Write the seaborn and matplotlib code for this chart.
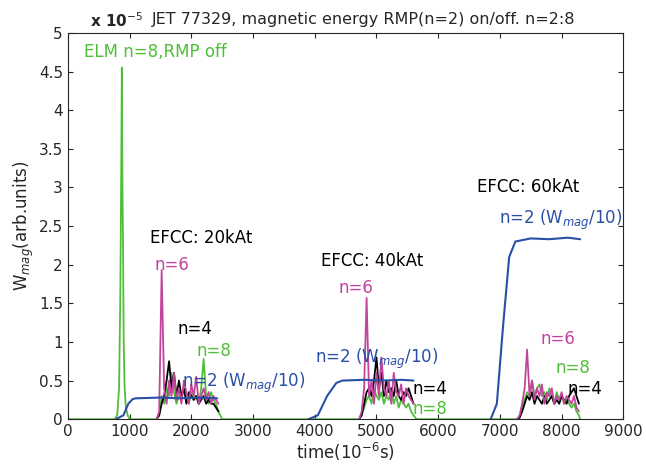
import numpy as np
import pandas as pd
import seaborn as sns
import matplotlib.pyplot as plt

GREEN = '#4fbf3a'
MAGENTA = '#c2449c'
BLUE = '#2a4fa6'

# ELM spike (RMP off)
elm_t = [0, 760, 800, 830, 850, 865, 875, 885, 895, 905, 920, 940, 970, 1000, 1400]
elm_v = [0, 0, 0.05, 0.4, 1.6, 3.2, 4.55, 3.0, 2.2, 1.0, 0.4, 0.15, 0.05, 0, 0]

# n=2 (W_mag/10) ramps
n2_t = [[780, 900, 980, 1050, 1100, 1500, 1800, 2100, 2420],
        [3900, 4050, 4200, 4350, 4450, 4800, 5100, 5400, 5600],
        [6850, 6950, 7050, 7150, 7250, 7500, 7800, 8100, 8300]]
n2_v = [[0, 0.05, 0.2, 0.26, 0.27, 0.28, 0.27, 0.28, 0.27],
        [0, 0.05, 0.3, 0.47, 0.5, 0.51, 0.5, 0.51, 0.5],
        [0, 0.2, 1.2, 2.1, 2.3, 2.34, 2.33, 2.35, 2.33]]

# bursts of n=6, n=4, n=8
b_t = [list(range(1440, 2441, 40)), list(range(4720, 5601, 40)), list(range(7280, 8281, 40))]
n6_v = [[0, 0.1, 1.93, 0.4, 0.2, 0.5, 0.3, 0.6, 0.25, 0.4, 0.2, 0.5, 0.35, 0.2, 0.45, 0.3, 0.55, 0.2, 0.3, 0.4, 0.25, 0.35, 0.2, 0.3, 0.25, 0.2],
        [0, 0.1, 0.4, 1.57, 0.3, 0.5, 0.2, 0.6, 0.3, 0.8, 0.4, 0.3, 0.5, 0.2, 0.6, 0.35, 0.3, 0.45, 0.2, 0.4, 0.3, 0.25, 0.2],
        [0, 0.05, 0.2, 0.4, 0.9, 0.3, 0.5, 0.25, 0.4, 0.3, 0.45, 0.2, 0.35, 0.3, 0.4, 0.2, 0.3, 0.25, 0.35, 0.2, 0.3, 0.25, 0.2, 0.3, 0.15, 0.1]]
n4_v = [[0, 0.05, 0.2, 0.3, 0.5, 0.75, 0.4, 0.6, 0.3, 0.5, 0.3, 0.4, 0.2, 0.35, 0.3, 0.25, 0.3, 0.2, 0.25, 0.3, 0.2, 0.25, 0.2, 0.2, 0.15, 0.1],
        [0, 0.05, 0.2, 0.35, 0.4, 0.3, 0.5, 0.8, 0.4, 0.6, 0.3, 0.5, 0.35, 0.4, 0.3, 0.5, 0.3, 0.25, 0.35, 0.3, 0.4, 0.3, 0.2],
        [0, 0.02, 0.1, 0.2, 0.3, 0.25, 0.35, 0.2, 0.3, 0.25, 0.2, 0.3, 0.2, 0.25, 0.3, 0.2, 0.25, 0.2, 0.3, 0.25, 0.2, 0.3, 0.35, 0.4, 0.3, 0.2]]
n8_v = [[0, 0.05, 0.3, 0.2, 0.4, 0.3, 0.6, 0.35, 0.2, 0.3, 0.25, 0.4, 0.3, 0.2, 0.35, 0.25, 0.3, 0.2, 0.4, 0.78, 0.3, 0.2, 0.35, 0.25, 0.2, 0.1],
        [0, 0.05, 0.15, 0.25, 0.3, 0.2, 0.4, 0.3, 0.25, 0.35, 0.2, 0.3, 0.25, 0.4, 0.2, 0.3, 0.15, 0.25, 0.2, 0.15, 0.2, 0.1, 0.05],
        [0, 0.05, 0.15, 0.25, 0.35, 0.3, 0.5, 0.3, 0.4, 0.45, 0.3, 0.35, 0.25, 0.4, 0.3, 0.2, 0.35, 0.25, 0.3, 0.2, 0.25, 0.2, 0.15, 0.2, 0.1, 0.05]]

sns.set_style('ticks')
plt.rcParams['xtick.direction'] = 'in'
plt.rcParams['ytick.direction'] = 'in'
fig, ax = plt.subplots(figsize=(6.46, 4.71), dpi=100)

# green baseline over whole time with ELM and bursts
g_t = elm_t + b_t[0] + [2500, 4650] + b_t[1] + [5650, 7230] + b_t[2] + [8300]
g_v = elm_v + n8_v[0] + [0, 0] + n8_v[1] + [0, 0] + n8_v[2] + [0]
sns.lineplot(x=g_t, y=g_v, color=GREEN, lw=1.3, ax=ax, estimator=None, sort=False)
for i in range(3):
    sns.lineplot(x=b_t[i], y=n4_v[i], color='black', lw=1.3, ax=ax, estimator=None, sort=False)
    sns.lineplot(x=b_t[i], y=n6_v[i], color=MAGENTA, lw=1.3, ax=ax, estimator=None, sort=False)
    sns.lineplot(x=n2_t[i], y=n2_v[i], color=BLUE, lw=1.5, ax=ax, estimator=None, sort=False)

ax.set_xlim(0, 9000)
ax.set_ylim(0, 5)
ax.set_xticks(range(0, 9001, 1000))
ax.set_yticks([0, 0.5, 1, 1.5, 2, 2.5, 3, 3.5, 4, 4.5, 5])
ax.set_yticklabels(['0', '0.5', '1', '1.5', '2', '2.5', '3', '3.5', '4', '4.5', '5'])
ax.tick_params(labelsize=11, top=True, right=True)
ax.set_xlabel('time(10$^{-6}$s)', fontsize=12, labelpad=1)
ax.set_ylabel('W$_{mag}$(arb.units)', fontsize=12, labelpad=2)
for s in ax.spines.values():
    s.set_visible(True)

fig.text(0.14, 0.975, r'x 10$^{-5}$', fontsize=11, fontweight='bold', va='top')
fig.text(0.235, 0.975, 'JET 77329, magnetic energy RMP(n=2) on/off. n=2:8', fontsize=11.5, va='top')

fs = 12
w = 'n=2 (W$_{mag}$/10)'
labels = [(270, 4.75, 'ELM n=8,RMP off', GREEN), (1330, 2.35, 'EFCC: 20kAt', 'black'),
          (1400, 2.0, 'n=6', MAGENTA), (1770, 1.17, 'n=4', 'black'), (2085, 0.88, 'n=8', GREEN),
          (1850, 0.47, w, BLUE), (4100, 2.05, 'EFCC: 40kAt', 'black'), (4380, 1.7, 'n=6', MAGENTA),
          (4010, 0.78, w, BLUE), (5590, 0.39, 'n=4', 'black'), (5590, 0.13, 'n=8', GREEN),
          (6630, 3.0, 'EFCC: 60kAt', 'black'), (6980, 2.58, w, BLUE), (7660, 1.04, 'n=6', MAGENTA),
          (7900, 0.66, 'n=8', GREEN), (8090, 0.39, 'n=4', 'black')]
for x, y, t, c in labels:
    ax.text(x, y, t, color=c, fontsize=fs, va='center', ha='left')

fig.subplots_adjust(left=0.105, right=0.965, top=0.93, bottom=0.11)
fig.savefig('out.png', dpi=100)
